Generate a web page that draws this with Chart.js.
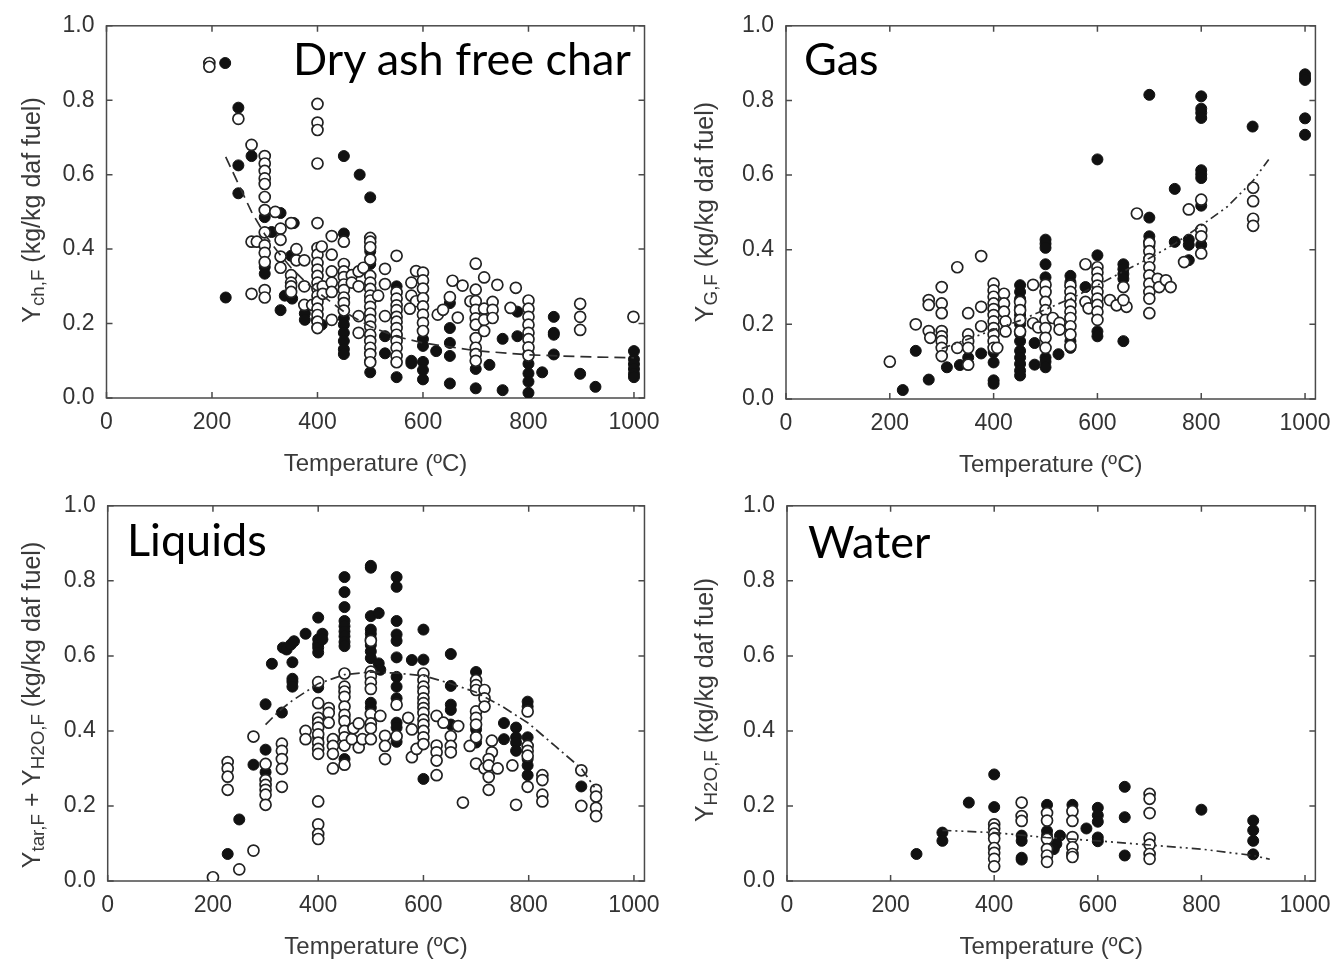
<!DOCTYPE html>
<html>
<head>
<meta charset="utf-8">
<script src="https://cdn.jsdelivr.net/npm/chart.js@4.4.1/dist/chart.umd.min.js"></script>
<style>
  body { margin: 0; background: #fff; }
  #page { position: relative; width: 1342px; height: 960px; overflow: hidden; background: #fff;
          font-family: "Liberation Sans", Arial, sans-serif; }
  canvas { position: absolute; }
  .tag { position: absolute; font-family: Lato, "Open Sans", sans-serif; font-size: 45px; line-height: 45px;
         color: #000; white-space: nowrap; }
  .ytitle { position: absolute; font-size: 25px; color: #3a3a3a; white-space: nowrap;
            transform: translate(-50%, -50%) rotate(-90deg); }
  .ytitle sub { font-size: 0.75em; vertical-align: -0.25em; }
</style>
</head>
<body>
<div id="page">
  <canvas id="charChart" width="671" height="480" style="left:0;top:0"></canvas>
  <canvas id="gasChart" width="671" height="480" style="left:671px;top:0"></canvas>
  <canvas id="liquidsChart" width="671" height="480" style="left:0;top:480px"></canvas>
  <canvas id="waterChart" width="671" height="480" style="left:671px;top:480px"></canvas>

  <div class="tag" style="left:293px;top:36px">Dry ash free char</div>
  <div class="tag" style="left:804px;top:36px">Gas</div>
  <div class="tag" style="left:127px;top:517px">Liquids</div>
  <div class="tag" style="left:808px;top:519px">Water</div>

  <div class="ytitle" style="left:33px;top:210px">Y<sub>ch,F</sub> (kg/kg daf fuel)</div>
  <div class="ytitle" style="left:706px;top:212px">Y<sub>G,F</sub> (kg/kg daf fuel)</div>
  <div class="ytitle" style="left:33px;top:705px">Y<sub>tar,F</sub> + Y<sub>H2O,F</sub> (kg/kg daf fuel)</div>
  <div class="ytitle" style="left:706px;top:700px">Y<sub>H2O,F</sub> (kg/kg daf fuel)</div>
</div>
<script>
// axis ticks
const tempTicks = [0, 200, 400, 600, 800, 1000];
const yieldTicks = [0, 0.2, 0.4, 0.6, 0.8, 1.0];

// dry ash free char
const charOpen = [
  [195,0.90],[195,0.89],[250,0.75],[275,0.68],[275,0.42],[285,0.42],[275,0.28],
  [300,0.65],[300,0.63],[300,0.61],[300,0.59],[300,0.575],[300,0.54],[300,0.505],[300,0.445],[300,0.41],[300,0.39],[300,0.365],[300,0.29],[300,0.27],
  [320,0.50],[330,0.455],[330,0.425],[330,0.38],[330,0.35],
  [350,0.47],[350,0.33],[350,0.31],[350,0.30],[350,0.285],
  [360,0.40],[360,0.37],[375,0.37],[375,0.30],[375,0.25],[390,0.25],
  [400,0.79],[400,0.74],[400,0.72],[400,0.63],[400,0.47],[400,0.403],[400,0.385],[400,0.363],[400,0.345],[400,0.328],[400,0.31],[400,0.293],[400,0.275],[400,0.258],[400,0.24],[400,0.223],[400,0.205],[400,0.188],
  [408,0.407],[410,0.30],[410,0.28],
  [427,0.435],[427,0.385],[427,0.34],[427,0.31],[427,0.285],[427,0.21],
  [450,0.42],[450,0.36],[450,0.34],[450,0.325],[450,0.305],[450,0.29],[450,0.27],[450,0.255],[450,0.235],
  [465,0.33],[465,0.31],[478,0.34],[478,0.30],[478,0.22],[478,0.175],[487,0.35],
  [500,0.43],[500,0.42],[500,0.405],[500,0.372],[500,0.328],[500,0.31],[500,0.293],[500,0.275],[500,0.262],[500,0.245],[500,0.227],[500,0.21],[500,0.192],[500,0.17],[500,0.153],[500,0.135],[500,0.118],[500,0.096],
  [515,0.275],[528,0.347],[528,0.306],[528,0.22],
  [550,0.382],[550,0.284],[550,0.267],[550,0.249],[550,0.236],[550,0.218],[550,0.205],[550,0.188],[550,0.17],[550,0.153],[550,0.135],[550,0.113],[550,0.096],
  [578,0.31],[578,0.275],[587,0.341],[587,0.26],[575,0.24],
  [600,0.337],[600,0.316],[600,0.294],[600,0.268],[600,0.246],[600,0.224],[600,0.202],[600,0.18],
  [628,0.224],[638,0.237],[656,0.315],[651,0.271],[675,0.302],[666,0.216],[690,0.26],
  [700,0.361],[700,0.291],[700,0.26],[700,0.237],[700,0.214],[700,0.197],[700,0.161],[700,0.135],[700,0.118],[700,0.10],
  [716,0.324],[716,0.24],[716,0.21],[716,0.18],
  [732,0.258],[732,0.237],[732,0.215],[741,0.304],[766,0.242],[776,0.296],
  [800,0.262],[800,0.24],[800,0.218],[800,0.197],[800,0.175],[800,0.158],[800,0.136],[800,0.114],
  [898,0.253],[898,0.218],[898,0.183],
  [999,0.218]
];
const charFilled = [
  [225,0.90],[226,0.27],[250,0.78],[250,0.625],[250,0.55],[275,0.65],
  [300,0.486],[300,0.352],[300,0.334],
  [313,0.446],[330,0.497],[330,0.236],[338,0.275],[352,0.267],[350,0.382],[355,0.47],
  [376,0.227],[376,0.21],[399,0.21],[408,0.197],[400,0.19],
  [450,0.65],[450,0.442],[450,0.214],[450,0.197],[450,0.175],[450,0.153],[450,0.131],[450,0.118],
  [480,0.60],
  [500,0.539],[500,0.394],[500,0.36],[500,0.12],[500,0.10],[500,0.069],
  [528,0.166],[528,0.12],
  [550,0.30],[550,0.17],[550,0.056],
  [578,0.10],[578,0.093],
  [600,0.158],[600,0.14],[600,0.097],[600,0.075],[600,0.05],
  [625,0.126],
  [651,0.255],[651,0.188],[651,0.148],[651,0.113],[651,0.039],
  [700,0.078],[700,0.026],
  [726,0.089],[751,0.159],[751,0.021],[779,0.232],[779,0.166],
  [800,0.118],[800,0.092],[800,0.066],[800,0.044],[800,0.014],
  [826,0.069],
  [848,0.218],[848,0.175],[848,0.17],[848,0.117],
  [898,0.065],[927,0.03],
  [1000,0.126],[1000,0.104],[1000,0.091],[1000,0.078],[1000,0.065],[1000,0.056]
];
const charFit = [[226,0.648],[250,0.575],[275,0.50],[300,0.44],[325,0.392],[350,0.35],[375,0.315],[400,0.285],[450,0.232],[500,0.192],[550,0.165],[600,0.148],[700,0.127],[800,0.116],[900,0.111],[1000,0.108]];

// gas
const gasOpen = [
  [200,0.10],[250,0.20],[275,0.265],[275,0.252],[275,0.182],[278,0.164],
  [300,0.30],[300,0.256],[300,0.23],[300,0.182],[300,0.168],[300,0.155],[300,0.137],[300,0.115],
  [330,0.353],[330,0.137],
  [351,0.23],[351,0.173],[351,0.155],[351,0.137],[351,0.092],
  [376,0.383],[376,0.247],[376,0.195],
  [400,0.309],[400,0.291],[400,0.274],[400,0.256],[400,0.241],[400,0.225],[400,0.208],[400,0.19],[400,0.173],[400,0.155],[400,0.137],
  [407,0.137],[420,0.282],[420,0.256],[420,0.234],[423,0.208],[423,0.181],
  [451,0.26],[451,0.238],[451,0.212],[451,0.181],
  [476,0.306],[476,0.203],[486,0.192],
  [500,0.306],[500,0.287],[500,0.26],[500,0.238],[500,0.212],[500,0.19],[500,0.164],[500,0.137],
  [514,0.217],[527,0.204],[527,0.186],
  [548,0.304],[548,0.287],[548,0.269],[548,0.252],[548,0.234],[548,0.217],[548,0.195],[548,0.173],[548,0.142],
  [577,0.361],[577,0.26],[583,0.243],
  [600,0.353],[600,0.339],[600,0.322],[600,0.304],[600,0.287],[600,0.269],[600,0.252],[600,0.234],[600,0.212],
  [624,0.265],[637,0.251],[656,0.247],[650,0.265],[650,0.30],[676,0.497],
  [700,0.418],[700,0.396],[700,0.375],[700,0.353],[700,0.331],[700,0.309],[700,0.287],[700,0.269],[700,0.23],
  [716,0.322],[719,0.30],[732,0.318],[741,0.30],[767,0.367],[776,0.508],
  [800,0.534],[800,0.453],[800,0.436],[800,0.39],
  [900,0.566],[900,0.53],[900,0.483],[900,0.464]
];
const gasFilled = [
  [225,0.024],[250,0.129],[275,0.052],[310,0.085],[335,0.091],[351,0.111],[351,0.094],[376,0.122],
  [400,0.125],[400,0.098],[400,0.05],[400,0.041],
  [451,0.305],[451,0.287],[451,0.268],[451,0.245],[451,0.225],[451,0.20],[451,0.175],[451,0.155],[451,0.129],[451,0.111],[451,0.094],[451,0.076],[451,0.063],
  [479,0.15],[479,0.092],
  [500,0.427],[500,0.416],[500,0.405],[500,0.361],[500,0.326],[500,0.111],[500,0.10],[500,0.085],
  [525,0.12],
  [548,0.33],[548,0.313],[548,0.155],[548,0.137],
  [577,0.30],
  [600,0.642],[600,0.385],[600,0.181],[600,0.168],
  [650,0.361],[650,0.348],[650,0.335],[650,0.322],[650,0.155],
  [700,0.815],[700,0.486],[700,0.436],[700,0.423],[700,0.41],
  [749,0.563],[749,0.421],[776,0.427],[776,0.413],[776,0.372],
  [800,0.811],[800,0.778],[800,0.767],[800,0.753],[800,0.613],[800,0.602],[800,0.592],[800,0.518],[800,0.413],
  [899,0.73],
  [1000,0.87],[1000,0.861],[1000,0.855],[1000,0.752],[1000,0.708]
];
const gasFit = [[300,0.135],[350,0.16],[400,0.185],[450,0.21],[500,0.24],[550,0.27],[600,0.305],[650,0.342],[700,0.377],[750,0.417],[800,0.465],[850,0.515],[900,0.585],[930,0.642]];

// liquids (tar + water)
const liquidsOpen = [
  [200,0.01],[250,0.031],[277,0.081],
  [228,0.317],[228,0.30],[228,0.278],[228,0.243],
  [277,0.385],
  [300,0.312],[300,0.269],[300,0.256],[300,0.243],[300,0.23],[300,0.203],
  [331,0.366],[331,0.347],[331,0.325],[331,0.299],[331,0.251],
  [376,0.40],[376,0.378],
  [400,0.53],[400,0.474],[400,0.435],[400,0.422],[400,0.409],[400,0.391],[400,0.369],[400,0.352],[400,0.339],[400,0.212],[400,0.151],[400,0.125],[400,0.112],
  [420,0.461],[420,0.448],[420,0.422],[428,0.378],[428,0.36],[428,0.339],[428,0.30],
  [450,0.553],[450,0.518],[450,0.505],[450,0.491],[450,0.465],[450,0.443],[450,0.426],[450,0.40],[450,0.383],[450,0.361],[450,0.31],
  [464,0.378],[467,0.407],[477,0.42],[477,0.356],[484,0.378],
  [500,0.64],[500,0.558],[500,0.546],[500,0.529],[500,0.512],[500,0.445],[500,0.42],[500,0.407],[500,0.378],
  [518,0.44],[527,0.387],[527,0.36],[527,0.325],
  [549,0.47],[549,0.386],
  [571,0.435],[578,0.404],[578,0.33],[587,0.352],
  [600,0.553],[600,0.535],[600,0.518],[600,0.505],[600,0.487],[600,0.474],[600,0.461],[600,0.448],[600,0.43],[600,0.417],[600,0.40],[600,0.383],[600,0.365],
  [625,0.44],[625,0.361],[625,0.343],[625,0.321],[625,0.282],
  [638,0.422],[666,0.413],
  [652,0.386],[652,0.36],[652,0.343],
  [675,0.209],[688,0.36],
  [700,0.535],[700,0.522],[700,0.509],[700,0.452],[700,0.435],[700,0.417],[700,0.383],[700,0.313],
  [716,0.509],[716,0.487],[716,0.465],[716,0.30],
  [730,0.374],[730,0.343],[724,0.325],[724,0.308],[724,0.277],[724,0.243],[741,0.30],[769,0.308],[776,0.203],
  [798,0.452],[798,0.36],[798,0.347],[798,0.334],[798,0.251],
  [826,0.282],[826,0.269],[826,0.23],[826,0.212],
  [900,0.295],[900,0.20],
  [928,0.243],[928,0.225],[928,0.195],[928,0.173]
];
const liquidsFilled = [
  [228,0.072],[250,0.164],[277,0.31],
  [300,0.471],[300,0.35],[300,0.29],
  [312,0.579],[331,0.449],[333,0.622],[340,0.617],[348,0.63],[354,0.639],
  [351,0.583],[351,0.539],[351,0.531],[351,0.518],
  [376,0.659],
  [400,0.702],[400,0.644],[400,0.631],[400,0.622],[400,0.609],[400,0.516],[400,0.43],[400,0.382],[400,0.365],
  [408,0.659],[408,0.644],
  [450,0.81],[450,0.77],[450,0.73],[450,0.693],[450,0.679],[450,0.665],[450,0.652],[450,0.637],[450,0.626],[450,0.434],[450,0.325],
  [500,0.84],[500,0.835],[500,0.706],[500,0.67],[500,0.659],[500,0.646],[500,0.629],[500,0.612],[500,0.594],[500,0.475],[500,0.462],
  [515,0.714],[515,0.58],[518,0.563],
  [549,0.81],[549,0.784],[549,0.693],[549,0.657],[549,0.64],[549,0.596],[549,0.544],[549,0.518],[549,0.487],[549,0.422],[549,0.409],[549,0.371],
  [578,0.589],
  [600,0.67],[600,0.59],[600,0.272],
  [652,0.605],[652,0.52],[652,0.47],[652,0.456],[652,0.417],
  [700,0.557],[700,0.404],[700,0.369],
  [753,0.421],[753,0.378],
  [776,0.409],[776,0.383],[776,0.369],[776,0.347],
  [798,0.478],[798,0.465],[798,0.383],[798,0.325],[798,0.308],[798,0.282],
  [900,0.252]
];
const liquidsFit = [[300,0.417],[325,0.452],[350,0.48],[400,0.526],[450,0.55],[500,0.557],[550,0.554],[600,0.547],[650,0.527],[700,0.503],[750,0.465],[800,0.42],[850,0.36],[900,0.30],[925,0.25]];

// water
const waterOpen = [
  [400,0.151],[400,0.14],[400,0.126],[400,0.113],[400,0.088],[400,0.075],[400,0.059],[400,0.039],
  [453,0.209],[453,0.173],[453,0.16],
  [502,0.181],[502,0.161],[502,0.112],[502,0.085],[502,0.068],[502,0.051],
  [551,0.186],[551,0.16],[551,0.117],[551,0.09],[551,0.072],[551,0.064],
  [700,0.232],[700,0.219],[700,0.181],[700,0.114],[700,0.097],[700,0.072],[700,0.059]
];
const waterFilled = [
  [250,0.072],[300,0.129],[300,0.107],[351,0.209],[400,0.284],[400,0.197],
  [453,0.121],[453,0.107],[453,0.062],[453,0.057],
  [502,0.203],[502,0.133],[502,0.121],
  [527,0.121],[520,0.099],[515,0.085],
  [551,0.203],[578,0.14],
  [600,0.195],[600,0.175],[600,0.158],[600,0.116],[600,0.106],
  [652,0.251],[652,0.17],[652,0.068],
  [800,0.19],
  [900,0.161],[900,0.135],[900,0.107],[900,0.071]
];
const waterFit = [[300,0.135],[400,0.129],[500,0.116],[600,0.107],[700,0.096],[800,0.085],[900,0.068],[932,0.058]];

const Y_AXIS_W = 70;
const X_AXIS_H = 78;
const textFont = '"Liberation Sans", Arial, sans-serif';

const toXY = pairs => pairs.map(([x, y]) => ({ x, y }));

// box frame with inward tick marks on all four sides
const framePlugin = {
  id: 'frame',
  beforeDatasetsDraw(chart) {
    const { ctx, chartArea: a, scales: { x, y } } = chart;
    ctx.save();
    ctx.strokeStyle = '#4a4a4a';
    ctx.lineWidth = 1.5;
    ctx.strokeRect(a.left, a.top, a.right - a.left, a.bottom - a.top);
    ctx.beginPath();
    tempTicks.forEach(v => {
      const px = x.getPixelForValue(v);
      ctx.moveTo(px, a.bottom); ctx.lineTo(px, a.bottom - 6);
      ctx.moveTo(px, a.top); ctx.lineTo(px, a.top + 6);
    });
    yieldTicks.forEach(v => {
      const py = y.getPixelForValue(v);
      ctx.moveTo(a.left, py); ctx.lineTo(a.left + 6, py);
      ctx.moveTo(a.right, py); ctx.lineTo(a.right - 6, py);
    });
    ctx.stroke();
    ctx.restore();
  }
};

function makePanel(id, box, open, filled, fit, dash) {
  new Chart(document.getElementById(id), {
    type: 'scatter',
    data: {
      datasets: [
        { data: toXY(fit), showLine: true, pointRadius: 0, borderColor: '#2e2e2e', borderWidth: 1.7, borderDash: dash },
        { data: toXY(open), pointRadius: 5.5, backgroundColor: '#ffffff', borderColor: '#222', borderWidth: 1.7 },
        { data: toXY(filled), pointRadius: 5.5, backgroundColor: '#111', borderColor: '#111', borderWidth: 1 }
      ]
    },
    options: {
      responsive: false,
      animation: false,
      events: [],
      layout: {
        padding: {
          left: box.l - box.ox - Y_AXIS_W,
          top: box.t - box.oy,
          right: box.ox + 671 - box.r,
          bottom: box.oy + 480 - box.b - X_AXIS_H
        }
      },
      plugins: { legend: { display: false }, tooltip: { enabled: false } },
      scales: {
        x: {
          type: 'linear', min: 0, max: 1020,
          grid: { display: false, drawTicks: false },
          border: { display: false },
          afterBuildTicks: s => { s.ticks = tempTicks.map(v => ({ value: v })); },
          afterFit: s => { s.height = X_AXIS_H; },
          ticks: { padding: 11, color: '#333', font: { family: textFont, size: 23 }, callback: v => String(v) },
          title: { display: true, text: 'Temperature (ºC)', color: '#3a3a3a', padding: { top: 0, bottom: 0 },
                   font: { family: textFont, size: 24, lineHeight: 1 } }
        },
        y: {
          type: 'linear', min: 0, max: 1,
          grid: { display: false, drawTicks: false },
          border: { display: false },
          afterBuildTicks: s => { s.ticks = yieldTicks.map(v => ({ value: v })); },
          afterFit: s => { s.width = Y_AXIS_W; },
          ticks: { padding: 12, color: '#333', font: { family: textFont, size: 23 }, callback: v => v.toFixed(1) }
        }
      }
    },
    plugins: [framePlugin]
  });
}

makePanel('charChart', { ox: 0, oy: 0, l: 106.5, t: 18, r: 648, b: 398 }, charOpen, charFilled, charFit, [11, 6]);
makePanel('gasChart', { ox: 671, oy: 0, l: 786, t: 19, r: 1323, b: 399 }, gasOpen, gasFilled, gasFit, [9, 4, 2, 4, 2, 4]);
makePanel('liquidsChart', { ox: 0, oy: 480, l: 107.7, t: 499, r: 647, b: 881 }, liquidsOpen, liquidsFilled, liquidsFit, [10, 4, 2, 4]);
makePanel('waterChart', { ox: 671, oy: 480, l: 787, t: 499, r: 1321, b: 881 }, waterOpen, waterFilled, waterFit, [9, 4, 2, 4, 2, 4]);
</script>
</body>
</html>
